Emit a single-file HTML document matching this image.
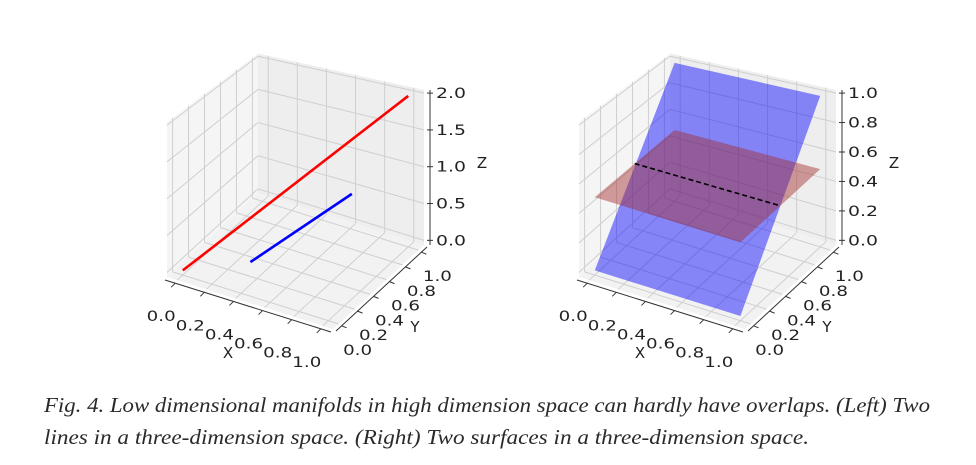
<!DOCTYPE html>
<html><head><meta charset="utf-8"><style>
html,body{margin:0;padding:0;background:#fff;}
svg{display:block;}
</style></head><body>
<svg id="fig" width="976" height="465" viewBox="0 0 976 465" xmlns="http://www.w3.org/2000/svg">
<g id="left"></g>
<g id="right"></g>
<text x="44" y="412" font-family="'Liberation Serif', serif" font-style="italic" font-size="21" fill="#2a2a2a" textLength="886" lengthAdjust="spacingAndGlyphs">Fig. 4. Low dimensional manifolds in high dimension space can hardly have overlaps. (Left) Two</text>
<text x="44" y="444" font-family="'Liberation Serif', serif" font-style="italic" font-size="21" fill="#2a2a2a" textLength="765" lengthAdjust="spacingAndGlyphs">lines in a three-dimension space. (Right) Two surfaces in a three-dimension space.</text>
</svg>
<script>
const xTicks = [0, 0.2, 0.4, 0.6, 0.8, 1.0];
const yTicks = [0, 0.2, 0.4, 0.6, 0.8, 1.0];
const zTicksLeft = [0, 0.5, 1.0, 1.5, 2.0];
const zTicksRight = [0, 0.2, 0.4, 0.6, 0.8, 1.0];
const redLineX = [0, 1];
const redLineY = [0, 1];
const redLineZ = [0, 2];
const blueLineX = [0.3, 0.75];
const blueLineY = [0.3, 0.75];
const blueLineZ = [0, 0.77];
const bluePlaneX = [0, 1];
const bluePlaneY = [0, 1];
const bluePlaneZ = [0, 1];
const redPlaneX = [0, 1];
const redPlaneY = [0, 1];
const redPlaneZ = 0.5;

const NS = "http://www.w3.org/2000/svg";
function mk(parent, tag, attrs) {
  const e = document.createElementNS(NS, tag);
  for (const k in attrs) e.setAttribute(k, attrs[k]);
  parent.appendChild(e);
  return e;
}
function makeAxes(g, Ox, Oy, zmax, zTicks) {
  const zlo = -0.0316 * zmax, zhi = zlo + zmax / 0.95;
  const F = (fx, fy, fz) => {
    const k = 1 - 0.1 * fy * (1 - fx);
    return [Ox + fx * 166 + fy * 91, Oy + fx * 52 - fy * 84 - fz * 155 * k];
  };
  const fxy = v => (v + 0.07) / 1.14;
  const fzz = v => (v - zlo) / (zhi - zlo);
  const P = (x, y, z) => F(fxy(x), fxy(y), fzz(z));
  const pts = arr => arr.map(p => p.join(",")).join(" ");
  let e;
  e = mk(g, "polygon", {points: pts([F(0,0,0),F(0,1,0),F(0,1,1),F(0,0,1)]), fill: "#f5f5f5"});
   
  e = mk(g, "polygon", {points: pts([F(0,1,0),F(1,1,0),F(1,1,1),F(0,1,1)]), fill: "#eeeeee"});
   
  e = mk(g, "polygon", {points: pts([F(0,0,0),F(1,0,0),F(1,1,0),F(0,1,0)]), fill: "#f2f2f2"});
   
  const gl = (a, b) => {
    const l = mk(g, "line", {x1: a[0], y1: a[1], x2: b[0], y2: b[1], stroke: "#cfcfcf", "stroke-width": 1});
     
  };
  yTicks.forEach(v => { const f = fxy(v); gl(F(0,f,0), F(0,f,1)); gl(F(0,f,0), F(1,f,0)); });
  xTicks.forEach(v => { const f = fxy(v); gl(F(f,1,0), F(f,1,1)); gl(F(f,0,0), F(f,1,0)); });
  zTicks.forEach(v => { const f = fzz(v); gl(F(0,0,f), F(0,1,f)); gl(F(0,1,f), F(1,1,f)); });
  const al = (a, b, name) => {
    const l = mk(g, "line", {x1: a[0], y1: a[1], x2: b[0], y2: b[1], stroke: "#333", "stroke-width": 1});
     
  };
  al([F(0,0,0)[0]-2, F(0,0,0)[1]+3], [F(1,0,0)[0]-2, F(1,0,0)[1]+3], 'x-axis-line');
  al([F(1,0,0)[0]+3, F(1,0,0)[1]+2], [F(1,1,0)[0]+3, F(1,1,0)[1]+2], 'y-axis-line');
  al([F(1,1,0)[0]+6, F(1,1,0)[1]], [F(1,1,1)[0]+6, F(1,1,1)[1]], 'z-axis-line');
  const lab = (x, y, txt, name, len, fs) => {
    const t = mk(g, "text", {x: x, y: y, "text-anchor": "middle", "dominant-baseline": "central",
      "font-family": "'DejaVu Sans', sans-serif", "font-size": fs || 14.5, fill: "#222"});
    if (len) { t.setAttribute("textLength", len); t.setAttribute("lengthAdjust", "spacingAndGlyphs"); }
    t.textContent = txt;
     
  };
  xTicks.forEach(v => {
    const p = F(fxy(v), 0, 0);
    al([p[0]-2, p[1]+3], [p[0]-6, p[1]+7], 'x-tick');
    lab(p[0]-16, p[1]+37, v.toFixed(1), 'x-tick-label', 29);
  });
  yTicks.forEach(v => {
    const p = F(1, fxy(v), 0);
    al([p[0]+3, p[1]+2], [p[0]+8, p[1]+4], 'y-tick');
    lab(p[0]+19, p[1]+27, v.toFixed(1), 'y-tick-label', 29);
  });
  zTicks.forEach(v => {
    const p = F(1, 1, fzz(v));
    al([p[0]+3, p[1]], [p[0]+9, p[1]], 'z-tick');
    lab(p[0]+27, p[1]+1, v.toFixed(1), 'z-tick-label', 30);
  });
  lab(Ox + 61, Oy + 76, "X", 'x-axis-title', 0, 15);
  lab(Ox + 248, Oy + 50, "Y", 'y-axis-title', 0, 15);
  lab(Ox + 315, Oy - 114, "Z", 'z-axis-title', 0, 15);
  return P;
}
const PL = makeAxes(document.getElementById("left"), 167, 277, 2, zTicksLeft);
const PR = makeAxes(document.getElementById("right"), 579, 277, 1, zTicksRight);
const gL = document.getElementById("left"), gR = document.getElementById("right");
function line3(g, P, X, Y, Z, color, name) {
  const a = P(X[0], Y[0], Z[0]), b = P(X[1], Y[1], Z[1]);
  const l = mk(g, "line", {x1: a[0], y1: a[1], x2: b[0], y2: b[1], stroke: color, "stroke-width": 2.6});
   
}
line3(gL, PL, redLineX, redLineY, redLineZ, "#ff0000", 'red-line');
line3(gL, PL, blueLineX, blueLineY, blueLineZ, "#0000ff", 'blue-line');
const pj = a => a.map(p => p.join(",")).join(" ");
let s = mk(gR, "polygon", {points: pj([
  PR(bluePlaneX[0], bluePlaneY[0], bluePlaneZ[0]), PR(bluePlaneX[1], bluePlaneY[0], bluePlaneZ[0]),
  PR(bluePlaneX[1], bluePlaneY[1], bluePlaneZ[1]), PR(bluePlaneX[0], bluePlaneY[1], bluePlaneZ[1])]),
  fill: "rgba(0,0,255,0.45)"});


s = mk(gR, "polygon", {points: pj([
  PR(redPlaneX[0], redPlaneY[0], redPlaneZ), PR(redPlaneX[1], redPlaneY[0], redPlaneZ),
  PR(redPlaneX[1], redPlaneY[1], redPlaneZ), PR(redPlaneX[0], redPlaneY[1], redPlaneZ)]),
  fill: "rgba(165,42,42,0.45)"});


const slope = (bluePlaneZ[1] - bluePlaneZ[0]) / (bluePlaneY[1] - bluePlaneY[0]);
const yInt = bluePlaneY[0] + (redPlaneZ - bluePlaneZ[0]) / slope;
const a = PR(redPlaneX[0], yInt, redPlaneZ), b = PR(redPlaneX[1], yInt, redPlaneZ);
s = mk(gR, "line", {x1: a[0], y1: a[1], x2: b[0], y2: b[1], stroke: "#000", "stroke-width": 1.6, "stroke-dasharray": "5,3"});


</script>
</body></html>
